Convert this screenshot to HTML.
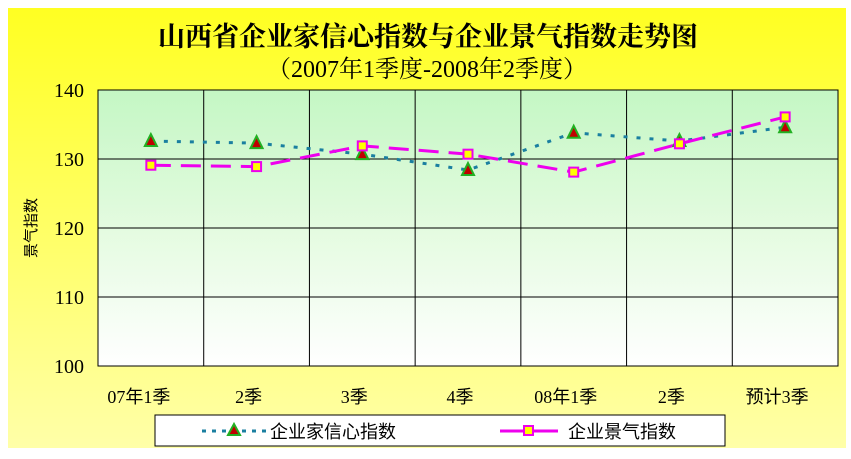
<!DOCTYPE html>
<html><head><meta charset="utf-8"><style>
body{margin:0;background:#fff;width:851px;height:454px;overflow:hidden;font-family:"Liberation Serif","Noto Serif CJK SC",serif}
</style></head><body>
<svg width="851" height="454" xmlns="http://www.w3.org/2000/svg">
<defs>
<linearGradient id="bg" x1="0" y1="0" x2="0" y2="1"><stop offset="0" stop-color="#ffff22"/><stop offset="1" stop-color="#ffffa8"/></linearGradient>
<linearGradient id="pg" x1="0" y1="0" x2="0" y2="1"><stop offset="0" stop-color="#c4f7c4"/><stop offset="0.5" stop-color="#e4fbe0"/><stop offset="1" stop-color="#ffffff"/></linearGradient>
</defs>
<rect x="8" y="8" width="838" height="440" fill="url(#bg)"/>
<text x="428" y="46" text-anchor="middle" font-size="27" font-weight="bold" font-family="'Noto Serif CJK SC',serif">山西省企业家信心指数与企业景气指数走势图</text>
<text x="427" y="77" text-anchor="middle" font-size="24" font-family="'Liberation Serif','Noto Serif CJK SC',serif">（2007年1季度-2008年2季度）</text>
<rect x="98" y="90" width="740" height="276" fill="url(#pg)" stroke="#000" stroke-width="1"/>
<g id="grid"></g><g id="axes"></g><g id="series"></g>
<text transform="translate(36,228) rotate(-90)" text-anchor="middle" font-size="15" font-family="'Noto Sans CJK SC',sans-serif">景气指数</text>
<rect x="155" y="415" width="570" height="31" fill="#fff" stroke="#000"/>
<g>
<line x1="202" y1="431" x2="266" y2="431" stroke="#1a7fa0" stroke-width="3" stroke-dasharray="4,6"/>
<polygon points="234,424 240,435 228,435" fill="#c00000" stroke="#22b022" stroke-width="2"/>
<text x="270" y="438" font-size="18" font-family="'Noto Sans CJK SC',sans-serif">企业家信心指数</text></g>
<g>
<line x1="500" y1="431" x2="558" y2="431" stroke="#ee00ee" stroke-width="3"/>
<rect x="524" y="426" width="9" height="9" fill="#ffff00" stroke="#ee00ee" stroke-width="2"/>
<text x="568" y="438" font-size="18" font-family="'Noto Sans CJK SC',sans-serif">企业景气指数</text></g>
</svg>
<script>
const categories=["07年1季","2季","3季","4季","08年1季","2季","预计3季"];
const confidence=[132.6,132.3,130.7,128.4,133.8,132.6,134.6];
const business=[129.1,128.9,131.9,130.7,128.1,132.2,136.1];
const yTicks=[100,110,120,130,140];
const NS="http://www.w3.org/2000/svg";
const X0=98,X1=838,Y0=366,Y1=90,ymin=100,ymax=140;
const cw=(X1-X0)/categories.length;
const xs=i=>X0+cw*(i+0.5);
const ys=v=>Y0-(v-ymin)/(ymax-ymin)*(Y0-Y1);
function mk(t,a,p){const e=document.createElementNS(NS,t);for(const k in a)e.setAttribute(k,a[k]);p.appendChild(e);return e;}
const grid=document.getElementById('grid'),axes=document.getElementById('axes'),ser=document.getElementById('series');
yTicks.forEach(v=>{
 const l=mk('line',{x1:X0,x2:X1,y1:ys(v),y2:ys(v),stroke:'#000','stroke-width':1},grid);
 
 
 const t=mk('text',{x:84,y:ys(v)+7,'text-anchor':'end','font-size':20,'font-family':'Liberation Serif,serif'},axes);
 t.textContent=v;
 
 
});
categories.forEach((c,i)=>{
 if(i>0){const l=mk('line',{x1:X0+cw*i,x2:X0+cw*i,y1:Y1,y2:Y0,stroke:'#000','stroke-width':1},grid);
 
 }
 const t=mk('text',{x:xs(i)-8+ (i==0?-4:0),y:403,'text-anchor':'middle','font-size':18,'font-family':"'Liberation Serif','Noto Sans CJK SC',sans-serif"},axes);
 t.textContent=c;
 
 
});
const p1=mk('polyline',{points:confidence.map((v,i)=>xs(i)+','+ys(v)).join(' '),fill:'none',stroke:'#1a7fa0','stroke-width':3,'stroke-dasharray':'4,9'},ser);


const p2=mk('polyline',{points:business.map((v,i)=>xs(i)+','+ys(v)).join(' '),fill:'none',stroke:'#ee00ee','stroke-width':3,'stroke-dasharray':'20,10'},ser);


confidence.forEach((v,i)=>{const x=xs(i),y=ys(v);
 const m=mk('polygon',{points:`${x},${y-7} ${x+6},${y+5} ${x-6},${y+5}`,fill:'#c00000',stroke:'#22b022','stroke-width':2},ser);
 
 });
business.forEach((v,i)=>{const x=xs(i),y=ys(v);
 const m=mk('rect',{x:x-4.5,y:y-4.5,width:9,height:9,fill:'#ffff00',stroke:'#ee00ee','stroke-width':2},ser);
 
 });
</script>
</body></html>
